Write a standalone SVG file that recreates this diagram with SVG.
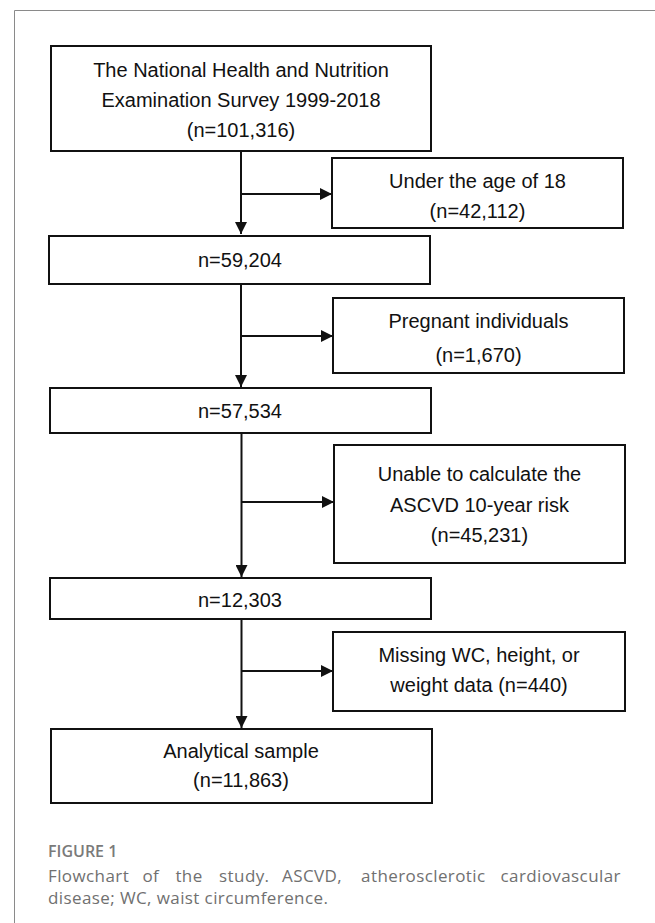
<svg xmlns="http://www.w3.org/2000/svg" width="655" height="923" viewBox="0 0 655 923">
<defs>
<style>
.box{fill:#fff;stroke:#111;stroke-width:2}
.t{font-family:"Liberation Sans",Arial,sans-serif;font-size:20px;fill:#111;text-anchor:middle}
.ln{stroke:#111;stroke-width:2;fill:none}
.cap{font-family:"Open Sans","Noto Sans",sans-serif;font-size:17px;letter-spacing:0.4px;fill:#707070}
.fig{font-family:"Open Sans","Noto Sans",sans-serif;font-size:16px;font-weight:600;fill:#7a7a7a}
</style>
<marker id="ah" viewBox="0 0 12 12" refX="12" refY="6" markerWidth="12" markerHeight="12" markerUnits="userSpaceOnUse" orient="auto">
<path d="M0,0 L12,6 L0,12 Z" fill="#111"/>
</marker>
</defs>
<rect width="655" height="923" fill="#fff"/>
<path d="M14.5,923 V10.5 H655" fill="none" stroke="#8a8a8a" stroke-width="1"/>

<g id="connectors">
<path class="ln" d="M241,151 V234" marker-end="url(#ah)"/>
<path class="ln" d="M241,194 H332" marker-end="url(#ah)"/>
<path class="ln" d="M241,284 V387" marker-end="url(#ah)"/>
<path class="ln" d="M241,336 H333" marker-end="url(#ah)"/>
<path class="ln" d="M241.5,433 V577" marker-end="url(#ah)"/>
<path class="ln" d="M241.5,502 H334" marker-end="url(#ah)"/>
<path class="ln" d="M241.5,619 V728" marker-end="url(#ah)"/>
<path class="ln" d="M241.5,671 H333" marker-end="url(#ah)"/>
</g>

<g id="node-nhanes">
<rect class="box" x="51" y="46" width="380" height="105"/>
<text class="t" x="241" y="77">The National Health and Nutrition</text>
<text class="t" x="241" y="107">Examination Survey 1999-2018</text>
<text class="t" x="241" y="137">(n=101,316)</text>
</g>
<g id="node-under18">
<rect class="box" x="332" y="158" width="291" height="70"/>
<text class="t" x="477.5" y="188">Under the age of 18</text>
<text class="t" x="477.5" y="218">(n=42,112)</text>
</g>
<g id="node-n59204">
<rect class="box" x="49" y="236" width="381" height="48"/>
<text class="t" x="240" y="267">n=59,204</text>
</g>
<g id="node-pregnant">
<rect class="box" x="333" y="298" width="291" height="75"/>
<text class="t" x="478.5" y="328">Pregnant individuals</text>
<text class="t" x="478.5" y="362">(n=1,670)</text>
</g>
<g id="node-n57534">
<rect class="box" x="50" y="388" width="381" height="45"/>
<text class="t" x="240" y="418">n=57,534</text>
</g>
<g id="node-ascvd">
<rect class="box" x="334" y="445" width="291" height="118"/>
<text class="t" x="479.5" y="481">Unable to calculate the</text>
<text class="t" x="479.5" y="512">ASCVD 10-year risk</text>
<text class="t" x="479.5" y="542">(n=45,231)</text>
</g>
<g id="node-n12303">
<rect class="box" x="50" y="578" width="381" height="41"/>
<text class="t" x="240" y="607">n=12,303</text>
</g>
<g id="node-missing">
<rect class="box" x="333" y="632" width="292" height="79"/>
<text class="t" x="479" y="662">Missing WC, height, or</text>
<text class="t" x="479" y="692">weight data (n=440)</text>
</g>
<g id="node-final">
<rect class="box" x="51" y="729" width="381" height="74"/>
<text class="t" x="241" y="758">Analytical sample</text>
<text class="t" x="241" y="787">(n=11,863)</text>
</g>

<g id="caption">
<text class="fig" x="48" y="857">FIGURE 1</text>
<text class="cap" y="882"><tspan x="48">Flowchart</tspan><tspan x="142.4">of</tspan><tspan x="175.4">the</tspan><tspan x="219.1">study.</tspan><tspan x="282.1">ASCVD,</tspan><tspan x="361.1">atherosclerotic</tspan><tspan x="500.5">cardiovascular</tspan></text>
<text class="cap" x="48" y="904">disease; WC, waist circumference.</text>
</g>
</svg>
